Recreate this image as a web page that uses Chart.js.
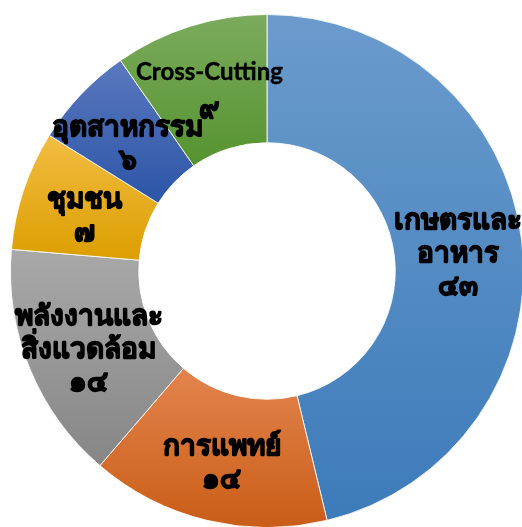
<!DOCTYPE html>
<html>
<head>
<meta charset="utf-8">
<script src="https://cdn.jsdelivr.net/npm/chart.js@4.4.1/dist/chart.umd.min.js"></script>
<style>
  html, body { margin: 0; padding: 0; background: #fff; overflow: hidden; width: 522px; height: 527px; }
  #wrap { position: absolute; left: 10px; top: 14px; width: 514px; height: 514px; }
</style>
</head>
<body>
<div id="wrap"><canvas id="chart" width="514" height="514"></canvas></div>
<script>
// Projects per sector
const categories = ['เกษตรและอาหาร', 'การแพทย์', 'พลังงานและสิ่งแวดล้อม', 'ชุมชน', 'อุตสาหกรรม', 'Cross-Cutting'];
const labelLines = [['เกษตรและ', 'อาหาร'], ['การแพทย์'], ['พลังงานและ', 'สิ่งแวดล้อม'], ['ชุมชน'], ['อุตสาหกรรม'], ['Cross-Cutting']];
const values = [43, 14, 14, 7, 6, 9];
const topColors = ['#6b9bcd', '#e3844d', '#a8a8a8', '#f2bd43', '#5a78be', '#7bab5e'];
const bottomColors = ['#3c7bb9', '#c95d17', '#868686', '#dc9e00', '#2c55a7', '#56932f'];

const thaiDigits = ['๐', '๑', '๒', '๓', '๔', '๕', '๖', '๗', '๘', '๙'];
function toThai(n) {
  return String(n).replace(/[0-9]/g, d => thaiDigits[+d]);
}

const CUTOUT = 0.5;

// Vertical gradient spanning each slice's own vertical extent
function sliceGradient(ctx) {
  const chart = ctx.chart;
  const area = chart.chartArea;
  const i = ctx.dataIndex;
  if (!area) return topColors[i];
  const data = ctx.dataset.data;
  const total = data.reduce((a, b) => a + b, 0);
  let before = 0;
  for (let k = 0; k < i; k++) before += data[k];
  const a0 = -Math.PI / 2 + before / total * Math.PI * 2;
  const a1 = a0 + data[i] / total * Math.PI * 2;
  const cy = (area.top + area.bottom) / 2;
  const rOut = Math.min(area.right - area.left, area.bottom - area.top) / 2;
  const rIn = rOut * CUTOUT;
  let minY = Infinity, maxY = -Infinity;
  for (let s = 0; s <= 60; s++) {
    const a = a0 + (a1 - a0) * s / 60;
    for (const r of [rIn, rOut]) {
      const y = cy + r * Math.sin(a);
      minY = Math.min(minY, y);
      maxY = Math.max(maxY, y);
    }
  }
  const g = chart.ctx.createLinearGradient(0, minY, 0, maxY);
  g.addColorStop(0, topColors[i]);
  g.addColorStop(1, bottomColors[i]);
  return g;
}

// Centred labels with name lines and the Thai-numeral value below
const sliceLabels = {
  id: 'sliceLabels',
  afterDatasetsDraw(chart) {
    const ctx = chart.ctx;
    const meta = chart.getDatasetMeta(0);
    ctx.save();
    ctx.fillStyle = '#000';
    ctx.strokeStyle = '#000';
    ctx.lineJoin = 'round';
    ctx.textAlign = 'center';
    ctx.textBaseline = 'middle';
    meta.data.forEach((arc, i) => {
      const p = arc.tooltipPosition();
      const lines = labelLines[i].concat([toThai(values[i])]);
      const lh = 33;
      const y0 = p.y + 6 - (lines.length - 1) * lh / 2;
      lines.forEach((t, j) => {
        const latin = /^[A-Za-z\-]+$/.test(t);
        ctx.font = latin ? 'bold 24px Lato, "Noto Sans", sans-serif' : 'bold 28px "Noto Sans", sans-serif';
        ctx.lineWidth = latin ? 0.4 : 1.3;
        const y = y0 + j * lh - (latin ? 5 : 0);
        ctx.fillText(t, p.x, y);
        ctx.strokeText(t, p.x, y);
      });
    });
    ctx.restore();
  }
};

new Chart(document.getElementById('chart'), {
  type: 'doughnut',
  data: {
    labels: categories,
    datasets: [{
      data: values,
      backgroundColor: sliceGradient,
      borderColor: 'rgba(255,255,255,0.85)',
      borderWidth: 1
    }]
  },
  options: {
    responsive: false,
    animation: false,
    cutout: '50%',
    layout: { padding: 0 },
    plugins: { legend: { display: false }, tooltip: { enabled: false } }
  },
  plugins: [sliceLabels]
});
</script>
</body>
</html>
